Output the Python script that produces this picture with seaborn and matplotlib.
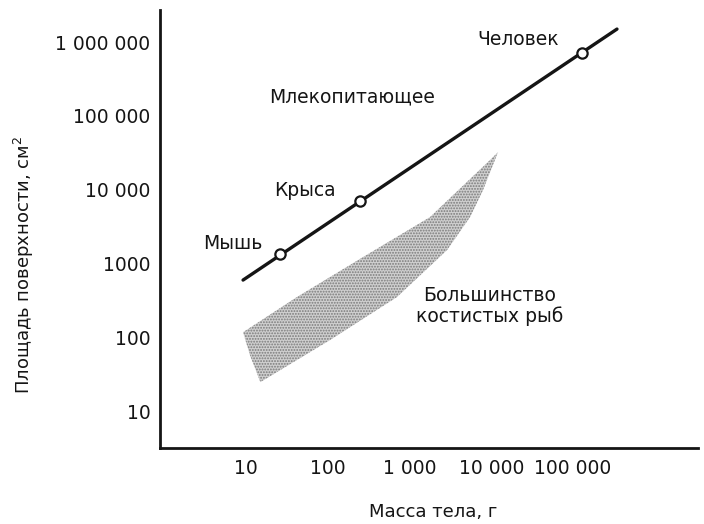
import matplotlib
matplotlib.use('Agg')
import matplotlib.pyplot as plt
import seaborn as sns
import pandas as pd

# values (mass in g, surface area in cm2)
line_mass = [9.2, 345000]
line_area = [596, 1500000]

animals = ['Мышь', 'Крыса', 'Человек']
animal_mass = [26, 250, 129000]
animal_area = [1340, 7000, 708000]

# outline of the bony fish band (upper edge, then lower edge back)
fish_mass = [9.2, 42, 270, 1780, 9660, 12100, 7930, 5500, 2880, 703, 107, 15, 11.2]
fish_area = [117, 351, 1220, 4250, 25200, 32300, 9890, 4250, 1520, 351, 92, 24.7, 57]

x_ticks = [10, 100, 1000, 10000, 100000]
x_tick_labels = ['10', '100', '1 000', '10 000', '100 000']
y_ticks = [10, 100, 1000, 10000, 100000, 1000000]
y_tick_labels = ['10', '100', '1000', '10 000', '100 000', '1 000 000']

sns.set_style('white')
plt.rcParams['font.family'] = ['DejaVu Sans']
plt.rcParams['hatch.linewidth'] = 0.9
ink = '#151515'

fig = plt.figure(figsize=(7.04, 5.24), dpi=100)
ax = fig.add_axes([160 / 704, 1 - 448 / 524, 538 / 704, 438 / 524])
ax.set_xscale('log')
ax.set_yscale('log')

# fish band
ax.fill(fish_mass, fish_area, facecolor='#cfcfcf', edgecolor='#7a7a7a',
        hatch='......', linewidth=0, zorder=1)

# mammal line and animals
df_line = pd.DataFrame({'mass': line_mass, 'area': line_area})
sns.lineplot(data=df_line, x='mass', y='area', color=ink, linewidth=2.4, ax=ax, zorder=2)
df_pts = pd.DataFrame({'name': animals, 'mass': animal_mass, 'area': animal_area})
sns.scatterplot(data=df_pts, x='mass', y='area', s=55, facecolor='white',
                edgecolor=ink, linewidth=1.6, ax=ax, zorder=3)

ax.set_xlim(0.887, 3.38e6)
ax.set_ylim(3.16, 2.72e6)

ax.set_xticks(x_ticks)
ax.set_xticklabels(x_tick_labels)
ax.set_yticks(y_ticks)
ax.set_yticklabels(y_tick_labels)
ax.minorticks_off()
ax.tick_params(axis='both', direction='in', length=15, width=1.6, color=ink,
               labelsize=13.5, labelcolor=ink)
ax.tick_params(axis='x', pad=8)
ax.tick_params(axis='y', pad=7)

for side in ['top', 'right']:
    ax.spines[side].set_visible(False)
for side in ['left', 'bottom']:
    ax.spines[side].set_linewidth(2)
    ax.spines[side].set_color(ink)

ax.set_xlabel('')
ax.set_ylabel('')

# annotations
fs = 13.5
ax.text(21200, 1.1e6, 'Человек', ha='center', va='center', fontsize=fs, color=ink)
ax.text(198, 180000, 'Млекопитающее', ha='center', va='center', fontsize=fs, color=ink)
ax.text(52.7, 9890, 'Крыса', ha='center', va='center', fontsize=fs, color=ink)
ax.text(6.9, 1890, 'Мышь', ha='center', va='center', fontsize=fs, color=ink)
ax.text(9660, 265, 'Большинство\nкостистых рыб', ha='center', va='center',
        fontsize=fs, color=ink, linespacing=1.05)

fig.text(433 / 704, 1 - 512 / 524, 'Масса тела, г', ha='center', va='center',
         fontsize=13, color=ink)
fig.text(24 / 704, 1 - 265 / 524, 'Площадь поверхности, см$^2$', ha='center',
         va='center', rotation=90, fontsize=13, color=ink)

fig.savefig('out.png', dpi=100)
